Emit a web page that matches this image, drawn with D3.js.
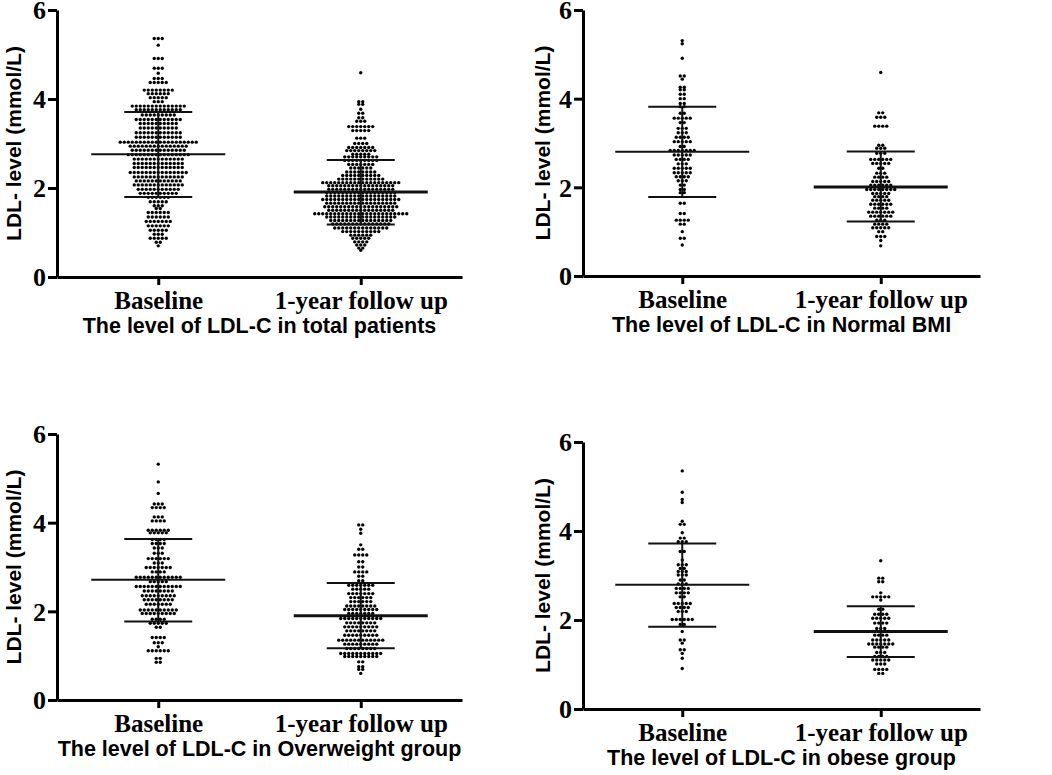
<!DOCTYPE html>
<html>
<head>
<meta charset="utf-8">
<script src="https://cdn.jsdelivr.net/npm/d3@7"></script>
<style>
    html, body { margin: 0; padding: 0; background: #fff; }
    svg { display: block; }
</style>
</head>
<body>
<div id="chart"></div>
<script>
// LDL-C dot plots, baseline vs 1-year follow up, four patient groups

const categories = ['Baseline', '1-year follow up'];
const yTicks = [0, 2, 4, 6];
const yLabel = 'LDL- level (mmol/L)';

const panelTitles = [
    'The level of LDL-C in total patients',
    'The level of LDL-C in Normal BMI',
    'The level of LDL-C in Overweight group',
    'The level of LDL-C in obese group'
];

// each row of dots: [LDL-C value, number of patients at that value]
const totalBaseline = [
    [5.36, 3], [5.21, 1], [4.91, 3], [4.69, 3], [4.58, 1], [4.46, 3], [4.37, 5], [4.2, 8],
    [4.12, 6], [4.03, 5], [3.94, 3], [3.84, 14], [3.76, 12], [3.64, 9], [3.54, 12], [3.45, 10],
    [3.35, 10], [3.24, 12], [3.14, 12], [3.03, 20], [2.94, 15], [2.85, 14], [2.75, 16], [2.65, 13],
    [2.55, 13], [2.46, 13], [2.35, 15], [2.25, 13], [2.16, 12], [2.07, 13], [1.97, 11], [1.88, 10],
    [1.79, 6], [1.69, 5], [1.6, 3], [1.54, 2], [1.45, 6], [1.35, 6], [1.25, 7], [1.15, 6],
    [1.05, 5], [0.96, 3], [0.87, 5], [0.78, 2], [0.7, 1]
];
const totalFollowUp = [
    [4.59, 1], [3.94, 2], [3.88, 2], [3.77, 1], [3.68, 2], [3.58, 2], [3.5, 3], [3.38, 7],
    [3.29, 5], [3.12, 3], [3.0, 4], [2.91, 7], [2.84, 8], [2.76, 5], [2.7, 9], [2.62, 9],
    [2.53, 7], [2.45, 6], [2.36, 8], [2.28, 10], [2.2, 12], [2.12, 20], [2.05, 17], [1.97, 17],
    [1.9, 18], [1.82, 18], [1.74, 20], [1.66, 18], [1.58, 19], [1.5, 17], [1.42, 24], [1.35, 18],
    [1.27, 16], [1.19, 15], [1.1, 14], [1.02, 10], [0.94, 6], [0.87, 5], [0.79, 4], [0.72, 3],
    [0.65, 2], [0.6, 1]
];
const normalBaseline = [
    [5.31, 1], [5.24, 1], [4.91, 1], [4.51, 2], [4.44, 1], [4.26, 2], [4.2, 2], [4.1, 2],
    [4.0, 2], [3.89, 2], [3.82, 2], [3.67, 2], [3.56, 5], [3.46, 2], [3.33, 3], [3.23, 3],
    [3.13, 4], [3.03, 5], [2.92, 2], [2.83, 7], [2.73, 5], [2.63, 4], [2.53, 3], [2.43, 5],
    [2.33, 5], [2.24, 4], [2.15, 3], [2.05, 2], [1.95, 2], [1.88, 2], [1.64, 2], [1.41, 2],
    [1.26, 4], [1.17, 2], [1.0, 1], [0.85, 2], [0.7, 1]
];
const normalFollowUp = [
    [4.59, 1], [3.68, 2], [3.58, 3], [3.38, 4], [2.95, 2], [2.88, 3], [2.77, 3], [2.63, 6],
    [2.54, 5], [2.43, 2], [2.32, 3], [2.23, 4], [2.13, 5], [2.05, 6], [1.95, 8], [1.86, 5],
    [1.79, 4], [1.71, 5], [1.62, 6], [1.53, 4], [1.44, 7], [1.35, 6], [1.26, 3], [1.17, 4],
    [1.09, 5], [1.0, 2], [0.89, 3], [0.8, 1], [0.68, 1]
];
const overweightBaseline = [
    [5.32, 1], [4.92, 1], [4.66, 1], [4.42, 3], [4.34, 4], [4.13, 3], [4.04, 4], [3.83, 6],
    [3.77, 5], [3.62, 4], [3.53, 4], [3.43, 3], [3.31, 3], [3.19, 6], [3.09, 3], [2.99, 7],
    [2.89, 4], [2.77, 12], [2.67, 5], [2.56, 12], [2.46, 8], [2.35, 9], [2.26, 8], [2.16, 7],
    [2.03, 10], [1.95, 9], [1.82, 4], [1.73, 5], [1.64, 2], [1.41, 4], [1.29, 3], [1.2, 1],
    [1.11, 6], [0.94, 2], [0.85, 2]
];
const overweightFollowUp = [
    [3.95, 2], [3.85, 1], [3.76, 1], [3.5, 1], [3.4, 2], [3.27, 4], [3.12, 2], [3.0, 2],
    [2.89, 4], [2.79, 2], [2.69, 2], [2.59, 7], [2.5, 5], [2.4, 7], [2.31, 6], [2.22, 6],
    [2.12, 8], [2.04, 9], [1.95, 7], [1.84, 11], [1.74, 8], [1.65, 9], [1.56, 8], [1.46, 9],
    [1.35, 12], [1.26, 9], [1.16, 8], [1.05, 11], [0.98, 9], [0.86, 2], [0.75, 2], [0.69, 2],
    [0.6, 1]
];
const obeseBaseline = [
    [5.35, 1], [4.87, 1], [4.71, 1], [4.64, 1], [4.22, 1], [4.15, 2], [3.96, 1], [3.84, 2],
    [3.76, 3], [3.54, 2], [3.35, 1], [3.24, 3], [3.16, 2], [3.09, 3], [3.01, 3], [2.9, 2],
    [2.81, 3], [2.71, 4], [2.61, 4], [2.52, 2], [2.37, 5], [2.28, 4], [2.19, 3], [2.01, 6],
    [1.9, 2], [1.74, 1], [1.55, 2], [1.48, 1], [1.33, 2], [1.25, 1], [1.14, 1], [0.91, 1]
];
const obeseFollowUp = [
    [3.33, 1], [2.94, 2], [2.86, 2], [2.61, 1], [2.52, 5], [2.45, 1], [2.24, 2], [2.13, 4],
    [2.04, 5], [1.93, 4], [1.81, 3], [1.74, 5], [1.66, 4], [1.55, 5], [1.46, 7], [1.39, 4],
    [1.27, 3], [1.18, 4], [1.1, 5], [1.01, 3], [0.89, 4], [0.8, 2]
];

// mean and mean +/- SD for each panel (total, normal, overweight, obese)
const meanBaseline = [2.76, 2.80, 2.71, 2.79];
const sdHighBaseline = [3.71, 3.82, 3.63, 3.72];
const sdLowBaseline = [1.80, 1.78, 1.77, 1.85];
const meanFollowUp = [1.91, 2.01, 1.90, 1.74];
const sdHighFollowUp = [2.63, 2.81, 2.64, 2.31];
const sdLowFollowUp = [1.18, 1.23, 1.17, 1.17];

const groupDots = [
    [totalBaseline, totalFollowUp],
    [normalBaseline, normalFollowUp],
    [overweightBaseline, overweightFollowUp],
    [obeseBaseline, obeseFollowUp]
];

// panel frames in page pixels: axis corner and extents
const panels = [
    { left: 57, right: 462, top: 10, bottom: 277, labelX: 14 },
    { left: 583, right: 980, top: 10, bottom: 276, labelX: 543 },
    { left: 57, right: 462, top: 434, bottom: 700, labelX: 14 },
    { left: 583, right: 980, top: 442, bottom: 709, labelX: 543 }
];

const width = 1052;
const height = 775;
const dotGap = 4;
const dotRadius = 1.7;
const meanHalf = 67;
const sdHalf = 34;

const svg = d3.select('#chart').append('svg')
    .attr('width', width)
    .attr('height', height);

svg.append('rect')
    .attr('width', width)
    .attr('height', height)
    .attr('fill', '#fff');

panels.forEach((p, pi) => {
    const g = svg.append('g').attr('class', 'panel');

    const x = d3.scalePoint()
        .domain(categories)
        .range([p.left, p.right])
        .padding(0.5);

    const y = d3.scaleLinear()
        .domain([0, 6])
        .range([p.bottom, p.top]);

    // Dots, one row per value, spread around the category centre
    groupDots[pi].forEach((rows, ci) => {
        const cx = x(categories[ci]);
        const pts = [];
        rows.forEach(([v, n]) => {
            for (let i = 0; i < n; i++) {
                pts.push({ v: v, off: (i - (n - 1) / 2) * dotGap });
            }
        });
        g.append('g')
            .selectAll('circle')
            .data(pts)
            .join('circle')
            .attr('cx', d => cx + d.off)
            .attr('cy', d => y(d.v))
            .attr('r', dotRadius)
            .attr('fill', '#000');
    });

    // Mean and SD bars
    const stats = [
        { c: categories[0], mean: meanBaseline[pi], hi: sdHighBaseline[pi], lo: sdLowBaseline[pi], w: 2 },
        { c: categories[1], mean: meanFollowUp[pi], hi: sdHighFollowUp[pi], lo: sdLowFollowUp[pi], w: 3 }
    ];
    stats.forEach(s => {
        const cx = x(s.c);
        g.append('line')
            .attr('x1', cx).attr('x2', cx)
            .attr('y1', y(s.hi)).attr('y2', y(s.lo))
            .attr('stroke', '#111').attr('stroke-width', 2);
        [s.hi, s.lo].forEach(v => {
            g.append('line')
                .attr('x1', cx - sdHalf).attr('x2', cx + sdHalf)
                .attr('y1', y(v)).attr('y2', y(v))
                .attr('stroke', '#111').attr('stroke-width', 2);
        });
        g.append('line')
            .attr('x1', cx - meanHalf).attr('x2', cx + meanHalf)
            .attr('y1', y(s.mean)).attr('y2', y(s.mean))
            .attr('stroke', '#111').attr('stroke-width', s.w);
    });

    // Y axis
    const yAxis = g.append('g')
        .attr('transform', `translate(${p.left}, 0)`)
        .call(d3.axisLeft(y)
            .tickValues(yTicks)
            .tickFormat(d3.format('d'))
            .tickSize(9)
            .tickSizeOuter(0)
            .tickPadding(2));

    // X axis
    const xAxis = g.append('g')
        .attr('transform', `translate(0, ${p.bottom})`)
        .call(d3.axisBottom(x).tickSize(8).tickSizeOuter(0).tickPadding(6));

    [yAxis, xAxis].forEach(ax => {
        ax.select('.domain').attr('stroke', '#000').attr('stroke-width', 3);
        ax.selectAll('.tick line').attr('stroke', '#000').attr('stroke-width', 3);
        ax.selectAll('.tick text')
            .attr('fill', '#000')
            .style('font-family', '"Liberation Serif", "Times New Roman", serif')
            .style('font-weight', 'bold');
    });
    yAxis.selectAll('.tick text')
        .attr('dy', '0.34em')
        .style('font-size', '26px');
    xAxis.selectAll('.tick text').style('font-size', '25px');

    // Y axis title
    g.append('text')
        .attr('transform', `translate(${p.labelX}, ${(p.top + p.bottom) / 2}) rotate(-90)`)
        .attr('text-anchor', 'middle')
        .attr('dy', '0.35em')
        .style('font-family', '"Liberation Sans", Arial, sans-serif')
        .style('font-weight', 'bold')
        .style('font-size', '21px')
        .text(yLabel);

    // Panel caption under the categories
    g.append('text')
        .attr('x', (p.left + p.right) / 2)
        .attr('y', p.bottom + 56)
        .attr('text-anchor', 'middle')
        .style('font-family', '"Liberation Sans", Arial, sans-serif')
        .style('font-weight', 'bold')
        .style('font-size', '21.5px')
        .text(panelTitles[pi]);
});
</script>
</body>
</html>
